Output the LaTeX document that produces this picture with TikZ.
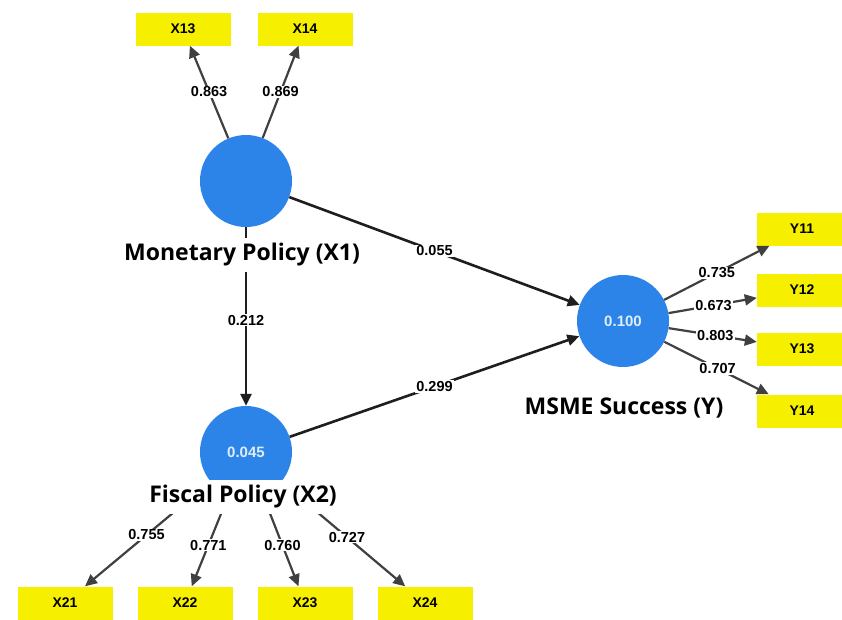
\documentclass[tikz,border=0pt]{standalone}
\usepackage{fontspec}
\setmainfont{Liberation Sans}
\newfontfamily\constructfont{Open Sans}
\usetikzlibrary{arrows.meta}
\definecolor{latentblue}{RGB}{45,132,232}
\definecolor{itemyellow}{RGB}{246,240,0}
\definecolor{linegray}{RGB}{30,30,30}
\tikzset{
    % Colors
    latent color/.style={fill=latentblue},
    indicator color/.style={fill=itemyellow},
    %
    % Nodes
    latent/.style={circle,latent color,inner sep=0pt,minimum size=92pt,text=latentblue!15!white,font=\bfseries\fontsize{15}{15}\selectfont},
    indicator/.style={rectangle,indicator color,minimum width=95pt,minimum height=33pt,inner sep=0pt,font=\bfseries\fontsize{14}{14}\selectfont},
    construct name/.style={fill=white,inner xsep=2pt,inner ysep=0pt,minimum height=34pt,font=\constructfont\bfseries\fontsize{23}{23}\selectfont},
    coef/.style={fill=white,inner sep=1pt,font=\bfseries\fontsize{14.5}{14.5}\selectfont},
    %
    % Arrows
    arrow tip/.tip={Triangle[length=12pt,width=11pt]},
    arr/.style={->,>={arrow tip},line width=2.6pt,draw=linegray},
    loading arr/.style={arr,line width=2.2pt,draw=linegray!85},
}

\begin{document}
\begin{tikzpicture}[x=1pt,y=-1pt]
    \useasboundingbox[fill=white] (0,0) rectangle (842,619);
    % constructs
    \node[latent] (X1) at (246,181) {};
    \node[latent] (X2) at (246,452) {0.045};
    \node[latent] (Y) at (623,321) {0.100};
    % indicators
    \node[indicator] (X13) at (183,29) {X13};
    \node[indicator] (X14) at (305,29) {X14};
    \node[indicator] (X21) at (65,603) {X21};
    \node[indicator] (X22) at (185,603) {X22};
    \node[indicator] (X23) at (305,603) {X23};
    \node[indicator] (X24) at (425,603) {X24};
    \node[indicator,minimum width=90pt] (Y11) at (802,229) {Y11};
    \node[indicator,minimum width=90pt] (Y12) at (802,290) {Y12};
    \node[indicator,minimum width=90pt] (Y13) at (802,349) {Y13};
    \node[indicator,minimum width=90pt] (Y14) at (802,411) {Y14};
    % loadings
    \draw[loading arr] (X1) -- node[coef]{0.863} (X13);
    \draw[loading arr] (X1) -- node[coef]{0.869} (X14);
    \draw[loading arr] (X2) -- node[coef,pos=.51]{0.755} (X21);
    \draw[loading arr] (X2) -- node[coef,pos=.55]{0.771} (X22);
    \draw[loading arr] (X2) -- node[coef,pos=.55]{0.760} (X23);
    \draw[loading arr] (X2) -- node[coef,pos=.53]{0.727} (X24);
    \draw[loading arr] (Y) -- node[coef]{0.735} (Y11);
    \draw[loading arr] (Y) -- node[coef,pos=.51]{0.673} (Y12);
    \draw[loading arr] (Y) -- node[coef,pos=.53]{0.803} (Y13);
    \draw[loading arr] (Y) -- node[coef,pos=.51]{0.707} (Y14);
    % paths
    \draw[arr] (X1) -- node[coef]{0.055} (Y);
    \draw[arr] (X2) -- node[coef]{0.299} (Y);
    \draw[arr] (X1) -- node[coef,pos=.52]{0.212} (X2);
    % construct names
    \node[construct name] (X1 name) at (242,255) {Monetary Policy (X1)};
    \node[construct name] (X2 name) at (243,497) {Fiscal Policy (X2)};
    \node[construct name,fill=none] (Y name) at (624,408) {MSME Success (Y)};
\end{tikzpicture}
\end{document}
